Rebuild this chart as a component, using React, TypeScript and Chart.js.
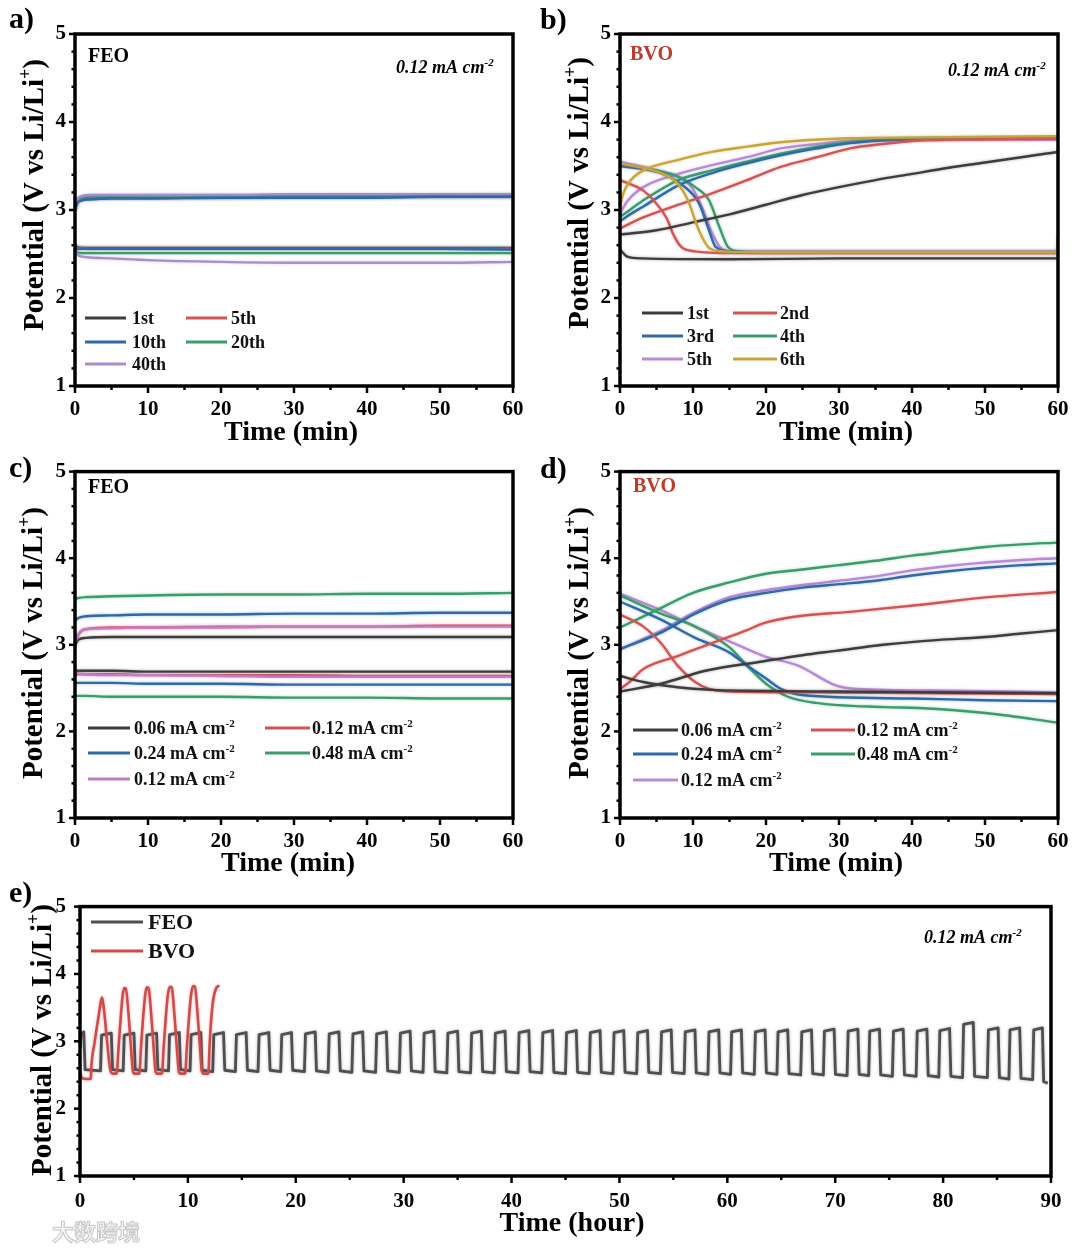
import React, { useEffect, useRef } from "react";
import { Chart, registerables } from "chart.js";
Chart.register(...registerables);

type Pt = [number, number];

// ---------------- Panel a : FEO, cycles at 0.12 mA cm-2 ----------------
const aT = [0, 0.3, 1, 2, 5, 10, 20, 30, 40, 50, 60];
const a1stCharge = [3.0, 3.08, 3.12, 3.13, 3.14, 3.14, 3.14, 3.15, 3.15, 3.15, 3.15];
const a5thCharge = [3.0, 3.09, 3.13, 3.14, 3.15, 3.15, 3.15, 3.15, 3.16, 3.16, 3.16];
const a10thCharge = [3.01, 3.08, 3.11, 3.12, 3.13, 3.13, 3.14, 3.14, 3.14, 3.15, 3.15];
const a20thCharge = [3.02, 3.1, 3.14, 3.15, 3.15, 3.16, 3.16, 3.16, 3.16, 3.16, 3.17];
const a40thCharge = [3.03, 3.12, 3.16, 3.17, 3.17, 3.17, 3.17, 3.18, 3.18, 3.18, 3.18];
const a1stDis = [2.6, 2.58, 2.57, 2.57, 2.57, 2.57, 2.57, 2.57, 2.57, 2.57, 2.57];
const a5thDis = [2.59, 2.57, 2.57, 2.56, 2.56, 2.56, 2.56, 2.56, 2.56, 2.56, 2.56];
const a10thDis = [2.58, 2.56, 2.56, 2.56, 2.56, 2.56, 2.56, 2.56, 2.56, 2.56, 2.55];
const a20thDis = [2.55, 2.52, 2.51, 2.51, 2.51, 2.51, 2.51, 2.51, 2.51, 2.51, 2.51];
const a40thDis = [2.62, 2.5, 2.47, 2.46, 2.45, 2.43, 2.41, 2.4, 2.4, 2.4, 2.41];

// ---------------- Panel b : BVO, cycles at 0.12 mA cm-2 ----------------
const b1stCharge: Pt[] = [[0, 2.72], [5, 2.77], [10, 2.86], [15, 2.95], [20, 3.06], [25, 3.17], [30, 3.26], [35, 3.34], [40, 3.41], [45, 3.48], [50, 3.54], [55, 3.6], [60, 3.66]];
const b2ndCharge: Pt[] = [[0, 2.79], [3, 2.91], [8, 3.06], [12.6, 3.19], [17.4, 3.34], [22, 3.49], [27, 3.6], [31.5, 3.7], [36, 3.75], [41, 3.79], [46, 3.8], [60, 3.81]];
const b3rdCharge: Pt[] = [[0, 2.87], [1, 2.93], [3.2, 3.04], [8, 3.28], [12.6, 3.42], [17.4, 3.53], [22, 3.62], [27, 3.7], [31.5, 3.76], [36, 3.79], [40, 3.8], [60, 3.81]];
const b4thCharge: Pt[] = [[0, 2.92], [1, 2.98], [3.2, 3.11], [8, 3.34], [12.6, 3.45], [17.4, 3.55], [22, 3.64], [27, 3.72], [31.5, 3.77], [36, 3.8], [60, 3.82]];
const b5thCharge: Pt[] = [[0, 2.96], [1, 3.1], [3.2, 3.26], [8, 3.41], [12.6, 3.51], [17.4, 3.6], [22, 3.7], [27, 3.75], [31.5, 3.79], [36, 3.81], [60, 3.8]];
const b6thCharge: Pt[] = [[0, 3.04], [0.5, 3.2], [1.5, 3.34], [3.2, 3.45], [8, 3.57], [12.6, 3.66], [17.4, 3.72], [22, 3.77], [29.6, 3.81], [35, 3.82], [60, 3.84]];
const b1stDis: Pt[] = [[0, 2.55], [1, 2.47], [3, 2.45], [15, 2.44], [30, 2.45], [45, 2.45], [60, 2.45]];
const b2ndDis: Pt[] = [[0, 3.34], [3.2, 3.22], [4.6, 3.11], [6.5, 2.89], [7.2, 2.74], [8.4, 2.58], [10.3, 2.53], [15, 2.51], [60, 2.51]];
const b3rdDis: Pt[] = [[0, 3.5], [5.6, 3.42], [8.9, 3.26], [10.8, 3.08], [12.2, 2.77], [13.1, 2.58], [15, 2.53], [20, 2.52], [60, 2.52]];
const b4thDis: Pt[] = [[0, 3.52], [7.9, 3.38], [10.3, 3.26], [12.2, 3.11], [13.6, 2.81], [14.8, 2.58], [16.4, 2.53], [20, 2.52], [60, 2.52]];
const b5thDis: Pt[] = [[0, 3.55], [5.6, 3.44], [8, 3.38], [9.8, 3.26], [11.2, 3.04], [12.6, 2.74], [13.8, 2.57], [15.5, 2.53], [60, 2.53]];
const b6thDis: Pt[] = [[0, 3.53], [5.6, 3.42], [7.9, 3.3], [9.3, 3.11], [10.8, 2.77], [12.2, 2.57], [14, 2.53], [20, 2.52], [59.8, 2.52], [60, 2.73]];

// ---------------- Panel c : FEO, rate test ----------------
const cT = [0, 0.5, 1.5, 5, 10, 20, 30, 40, 50, 60];
const c006Charge = [3.0, 3.06, 3.08, 3.09, 3.09, 3.09, 3.09, 3.09, 3.09, 3.09];
const c012Charge = [3.0, 3.12, 3.18, 3.2, 3.2, 3.21, 3.21, 3.21, 3.22, 3.22];
const c024Charge = [3.28, 3.31, 3.33, 3.34, 3.35, 3.35, 3.36, 3.36, 3.37, 3.37];
const c048Charge = [3.53, 3.54, 3.55, 3.56, 3.57, 3.58, 3.58, 3.59, 3.59, 3.6];
const c012bCharge = [3.02, 3.13, 3.18, 3.19, 3.2, 3.2, 3.21, 3.21, 3.21, 3.21];
const c006Dis = [2.7, 2.7, 2.7, 2.7, 2.69, 2.69, 2.69, 2.69, 2.69, 2.69];
const c012Dis = [2.66, 2.66, 2.66, 2.66, 2.65, 2.65, 2.65, 2.64, 2.64, 2.64];
const c024Dis = [2.56, 2.56, 2.56, 2.56, 2.55, 2.55, 2.54, 2.54, 2.54, 2.54];
const c048Dis = [2.41, 2.41, 2.41, 2.4, 2.4, 2.4, 2.39, 2.39, 2.38, 2.38];
const c012bDis = [2.68, 2.67, 2.66, 2.65, 2.65, 2.64, 2.63, 2.63, 2.63, 2.63];

// ---------------- Panel d : BVO, rate test ----------------
const d006Charge: Pt[] = [[0, 2.46], [5.6, 2.55], [11.7, 2.7], [19.7, 2.81], [25, 2.88], [29.6, 2.93], [36, 3.0], [41, 3.04], [50, 3.09], [55, 3.13], [60, 3.17]];
const d012Charge: Pt[] = [[0, 2.49], [1.3, 2.57], [3.2, 2.72], [7.9, 2.87], [12.6, 3.02], [17.4, 3.17], [19.7, 3.25], [24.4, 3.33], [31.5, 3.38], [40.9, 3.46], [50.4, 3.55], [60, 3.61]];
const d024Charge: Pt[] = [[0, 2.95], [5.6, 3.14], [10.3, 3.36], [15, 3.52], [20, 3.6], [25, 3.66], [30, 3.7], [35, 3.74], [40, 3.8], [45, 3.85], [50, 3.89], [55, 3.92], [60, 3.94]];
const d048Charge: Pt[] = [[0, 3.2], [5, 3.4], [10, 3.6], [15, 3.72], [20, 3.82], [25, 3.87], [30, 3.92], [35, 3.97], [40, 4.03], [45, 4.08], [50, 4.13], [55, 4.16], [60, 4.18]];
const d012bCharge: Pt[] = [[0, 2.95], [5.6, 3.16], [10.3, 3.38], [15, 3.55], [20, 3.63], [25, 3.69], [30, 3.74], [35, 3.79], [40, 3.86], [45, 3.91], [50, 3.95], [55, 3.98], [60, 4.0]];
const d006Dis: Pt[] = [[0, 2.64], [3.2, 2.57], [7.9, 2.51], [12.6, 2.48], [17.4, 2.47], [30, 2.46], [45, 2.45], [60, 2.44]];
const d012Dis: Pt[] = [[0, 3.35], [3.2, 3.21], [5.6, 3.02], [7.9, 2.76], [10.3, 2.57], [12.2, 2.49], [15, 2.46], [30, 2.45], [45, 2.44], [60, 2.43]];
const d024Dis: Pt[] = [[0, 3.5], [5.6, 3.29], [10.3, 3.08], [15, 2.91], [17.4, 2.76], [20, 2.61], [22.1, 2.49], [24.9, 2.42], [40, 2.38], [50, 2.36], [60, 2.35]];
const d048Dis: Pt[] = [[0, 3.57], [5.6, 3.36], [10.3, 3.21], [15, 2.97], [17.4, 2.76], [20, 2.55], [23, 2.4], [26.8, 2.33], [36.2, 2.28], [40.9, 2.27], [50.4, 2.21], [60, 2.1]];
const d012bDis: Pt[] = [[0, 3.59], [5.6, 3.4], [10.3, 3.21], [15, 3.04], [19.7, 2.87], [24.4, 2.76], [29.6, 2.53], [32.5, 2.49], [45, 2.47], [60, 2.45]];

// ---------------- Panel e : long-term cycling (hours) ----------------
const feoTopStart = [0.0, 1.9, 4.0, 6.1, 8.2, 10.2, 12.3, 14.4, 16.5, 18.6, 20.8, 23.0, 25.2, 27.4, 29.6, 31.8, 34.0, 36.2, 38.4, 40.6, 42.8, 45.0, 47.2, 49.4, 51.6, 53.8, 56.0, 58.2, 60.3, 62.5, 64.6, 66.8, 68.9, 71.1, 73.1, 75.3, 77.5, 79.6, 81.8, 84.1, 86.1, 88.3];
const feoTopEnd = [0.35, 2.9, 5.0, 7.1, 9.2, 11.2, 13.3, 15.4, 17.5, 19.6, 21.8, 24.0, 26.2, 28.4, 30.6, 32.8, 35.0, 37.2, 39.4, 41.6, 43.8, 46.0, 48.2, 50.4, 52.6, 54.8, 57.0, 59.2, 61.3, 63.5, 65.6, 67.8, 69.9, 72.1, 74.1, 76.3, 78.5, 80.6, 82.8, 85.1, 87.1, 89.2];
const feoHigh = [3.14, 3.12, 3.12, 3.12, 3.13, 3.13, 3.13, 3.13, 3.13, 3.13, 3.14, 3.14, 3.14, 3.14, 3.15, 3.15, 3.15, 3.15, 3.15, 3.16, 3.16, 3.16, 3.16, 3.16, 3.16, 3.17, 3.17, 3.17, 3.17, 3.17, 3.17, 3.17, 3.18, 3.18, 3.18, 3.18, 3.18, 3.19, 3.28, 3.2, 3.2, 3.2];
const feoLow = [2.56, 2.56, 2.56, 2.56, 2.56, 2.55, 2.55, 2.55, 2.55, 2.55, 2.54, 2.54, 2.54, 2.54, 2.54, 2.53, 2.53, 2.53, 2.53, 2.53, 2.52, 2.52, 2.52, 2.52, 2.52, 2.52, 2.51, 2.51, 2.51, 2.51, 2.5, 2.5, 2.49, 2.49, 2.48, 2.48, 2.47, 2.46, 2.46, 2.44, 2.43, 2.38];
const feoLongFirst: Pt = [0, 2.9];
const feoLongLastT = 89.7;
const bvoLong: Pt[] = [
  [0, 2.56], [0.15, 2.46], [0.5, 2.44], [1.0, 2.44],
  [1.05, 2.62], [1.35, 2.98], [1.7, 3.35], [1.95, 3.6], [2.05, 3.65],
  [2.2, 3.5], [2.45, 3.1], [2.7, 2.7], [2.85, 2.55], [3.0, 2.52], [3.4, 2.52],
  [3.55, 2.85], [3.75, 3.3], [3.95, 3.68], [4.1, 3.79], [4.25, 3.78],
  [4.5, 3.4], [4.75, 2.85], [4.9, 2.56], [5.05, 2.52], [5.5, 2.52],
  [5.65, 2.9], [5.85, 3.35], [6.05, 3.7], [6.2, 3.8], [6.35, 3.79],
  [6.6, 3.4], [6.85, 2.85], [7.0, 2.56], [7.15, 2.52], [7.6, 2.52],
  [7.75, 2.9], [7.95, 3.35], [8.15, 3.7], [8.35, 3.81], [8.5, 3.8],
  [8.75, 3.4], [9.0, 2.85], [9.15, 2.56], [9.3, 2.52], [9.75, 2.52],
  [9.9, 2.9], [10.1, 3.35], [10.3, 3.7], [10.5, 3.82], [10.65, 3.81],
  [10.9, 3.4], [11.15, 2.85], [11.3, 2.56], [11.45, 2.52], [11.9, 2.52],
  [12.0, 2.9], [12.15, 3.3], [12.35, 3.62], [12.6, 3.78], [12.9, 3.83],
];

// ---------------- helpers ----------------
const grid = (t: number[], v: number[]) => t.map((x, i) => ({ x, y: v[i] }));
const pts = (p: Pt[]) => p.map(([x, y]) => ({ x, y }));
function feoLongPoints() {
  const out = [{ x: feoLongFirst[0], y: feoLongFirst[1] }];
  for (let k = 0; k < feoTopStart.length; k++) {
    if (k > 0) out.push({ x: feoTopStart[k], y: feoLow[k - 1] });
    out.push({ x: feoTopStart[k] + 0.1, y: feoHigh[k] - 0.03 });
    out.push({ x: feoTopEnd[k], y: feoHigh[k] });
    out.push({ x: feoTopEnd[k] + 0.12, y: feoLow[k] + 0.02 });
  }
  out.push({ x: feoLongLastT, y: feoLow[feoLow.length - 1] });
  return out;
}

const K = "#3d3d3d";
const R = "#d35454";
const B = "#2f6aa6";
const G = "#3a9d6b";
const P = "#b98ad6";
const Y = "#c9a43a";
const BVO_RED = "#c0392b";
const FONT = '"Liberation Serif", "Times New Roman", serif';

type Seg = { t: string; sup?: boolean };
const S = (t: string, sup = false): Seg => ({ t, sup });
const CM2 = (v: string) => [S(v + " mA cm"), S("-2", true)];
const YTITLE = [S("Potential (V vs Li/Li"), S("+", true), S(")")];

interface Series { color: string; parts: { x: number; y: number }[][]; order?: number; step?: boolean; width?: number }
interface LegendItem { segs: Seg[]; color: string; x0: number; x1: number; tx: number; y: number }
interface TextItem { segs: Seg[]; x: number; y: number; size: number; style: string; color?: string; align?: "left" | "center"; rotate?: boolean }
interface PanelCfg {
  box: { x: number; y: number; w: number; h: number };
  area: { l: number; t: number; r: number; b: number };
  xMax: number; xMajor: number; xMinor: number;
  tickPadX: number; tickPadY: number;
  series: Series[];
  legend: LegendItem[]; legendSize: number;
  texts: TextItem[];
}

function drawRich(ctx: CanvasRenderingContext2D, segs: Seg[], x: number, y: number, size: number, style: string, align: string) {
  const main = `${style} ${size}px ${FONT}`;
  const sup = `${style} ${Math.round(size * 0.62)}px ${FONT}`;
  let w = 0;
  for (const s of segs) { ctx.font = s.sup ? sup : main; w += ctx.measureText(s.t).width; }
  let cx = align === "center" ? x - w / 2 : x;
  ctx.textAlign = "left";
  ctx.textBaseline = "alphabetic";
  for (const s of segs) {
    ctx.font = s.sup ? sup : main;
    ctx.fillText(s.t, cx, s.sup ? y - size * 0.4 : y);
    cx += ctx.measureText(s.t).width;
  }
}

function hexA(hex: string, a: number) {
  const n = parseInt(hex.slice(1), 16);
  return `rgba(${(n >> 16) & 255},${(n >> 8) & 255},${n & 255},${a})`;
}

function makeDecor(cfg: PanelCfg) {
  return {
    id: "decor",
    beforeDatasetDraw(chart: any, args: any) {
      const ds = chart.data.datasets[args.index];
      const ctx = chart.ctx;
      ctx.save();
      ctx.shadowColor = hexA(ds.borderColor, 0.45);
      ctx.shadowBlur = 3;
    },
    afterDatasetDraw(chart: any) {
      chart.ctx.restore();
    },
    afterDraw(chart: any) {
      const ctx: CanvasRenderingContext2D = chart.ctx;
      const { left, right, top, bottom } = chart.chartArea;
      const xs = chart.scales.x, ys = chart.scales.y;
      const ox = cfg.box.x, oy = cfg.box.y;
      ctx.save();
      ctx.strokeStyle = "#000";
      ctx.lineCap = "butt";
      ctx.lineWidth = 2.5;
      const nx = Math.round(cfg.xMax / cfg.xMinor);
      for (let i = 0; i <= nx; i++) {
        const v = i * cfg.xMinor;
        const major = Math.abs(v / cfg.xMajor - Math.round(v / cfg.xMajor)) < 1e-6;
        const px = xs.getPixelForValue(v);
        ctx.beginPath(); ctx.moveTo(px, bottom); ctx.lineTo(px, bottom + (major ? 7 : 4)); ctx.stroke();
      }
      for (let i = 0; i <= 20; i++) {
        const v = 1 + i * 0.2;
        const major = i % 5 === 0;
        const py = ys.getPixelForValue(v);
        ctx.beginPath(); ctx.moveTo(left, py); ctx.lineTo(left - (major ? 6 : 3.5), py); ctx.stroke();
      }
      ctx.lineWidth = 3.5;
      ctx.strokeRect(left, top, right - left, bottom - top);

      // legend
      for (const it of cfg.legend) {
        ctx.strokeStyle = it.color;
        ctx.lineWidth = 3;
        ctx.beginPath(); ctx.moveTo(it.x0 - ox, it.y - oy); ctx.lineTo(it.x1 - ox, it.y - oy); ctx.stroke();
        ctx.fillStyle = "#111";
        drawRich(ctx, it.segs, it.tx - ox, it.y - oy + cfg.legendSize * 0.33, cfg.legendSize, "bold", "left");
      }
      // texts
      for (const t of cfg.texts) {
        ctx.fillStyle = t.color || "#000";
        if (t.rotate) {
          ctx.save();
          ctx.translate(t.x - ox, t.y - oy);
          ctx.rotate(-Math.PI / 2);
          drawRich(ctx, t.segs, 0, 0, t.size, t.style, "center");
          ctx.restore();
        } else {
          drawRich(ctx, t.segs, t.x - ox, t.y - oy, t.size, t.style, t.align || "left");
        }
      }
      ctx.restore();
    },
  };
}

function buildConfig(cfg: PanelCfg): any {
  const datasets = cfg.series.flatMap((s, si) =>
    s.parts.map((p) => ({
      data: p,
      borderColor: s.color,
      backgroundColor: s.color,
      borderWidth: s.width ?? 2.4,
      pointRadius: 0,
      fill: false,
      tension: 0,
      cubicInterpolationMode: s.step ? "default" : "monotone",
      borderJoinStyle: "round",
      order: s.order ?? si + 2,
    }))
  );
  const tickFont = { family: FONT, weight: "bold", size: 21 };
  return {
    type: "line",
    data: { datasets },
    plugins: [makeDecor(cfg)],
    options: {
      animation: false,
      responsive: false,
      events: [],
      layout: { padding: { left: 0, top: cfg.area.t - cfg.box.y, right: cfg.box.x + cfg.box.w - cfg.area.r, bottom: 0 } },
      plugins: { legend: { display: false }, tooltip: { enabled: false }, title: { display: false } },
      scales: {
        x: {
          type: "linear", min: 0, max: cfg.xMax,
          afterFit: (sc: any) => { sc.height = cfg.box.y + cfg.box.h - cfg.area.b; },
          grid: { display: false, drawTicks: false },
          border: { display: false },
          ticks: { stepSize: cfg.xMajor, autoSkip: false, maxRotation: 0, padding: cfg.tickPadX, color: "#000", font: tickFont },
        },
        y: {
          type: "linear", min: 1, max: 5,
          afterFit: (sc: any) => { sc.width = cfg.area.l - cfg.box.x; },
          grid: { display: false, drawTicks: false },
          border: { display: false },
          ticks: { stepSize: 1, autoSkip: false, padding: cfg.tickPadY, color: "#000", font: tickFont },
        },
      },
    },
  };
}

// ---------------- panel configurations ----------------
const L = (segs: Seg[], color: string, x0: number, x1: number, tx: number, y: number): LegendItem => ({ segs, color, x0, x1, tx, y });

const panelA: PanelCfg = {
  box: { x: 0, y: 0, w: 540, h: 450 },
  area: { l: 75, t: 34, r: 513, b: 386 },
  xMax: 60, xMajor: 10, xMinor: 5, tickPadX: 11, tickPadY: 9,
  series: [
    { color: K, parts: [grid(aT, a1stCharge), grid(aT, a1stDis)], order: 6 },
    { color: R, parts: [grid(aT, a5thCharge), grid(aT, a5thDis)], order: 5 },
    { color: B, parts: [grid(aT, a10thCharge), grid(aT, a10thDis)], order: 1 },
    { color: G, parts: [grid(aT, a20thCharge), grid(aT, a20thDis)], order: 4 },
    { color: "#a88fcc", parts: [grid(aT, a40thCharge), grid(aT, a40thDis)], order: 3 },
  ],
  legendSize: 18,
  legend: [
    L([S("1st")], K, 85, 126, 132, 318), L([S("5th")], R, 186, 227, 231, 318),
    L([S("10th")], B, 85, 126, 132, 342), L([S("20th")], G, 186, 227, 231, 342),
    L([S("40th")], "#a88fcc", 85, 126, 132, 364),
  ],
  texts: [
    { segs: [S("a)")], x: 9, y: 28, size: 30, style: "bold" },
    { segs: [S("FEO")], x: 88, y: 62, size: 20, style: "bold" },
    { segs: CM2("0.12"), x: 396, y: 73, size: 18, style: "italic bold" },
    { segs: YTITLE, x: 43, y: 195, size: 29, style: "bold", rotate: true },
    { segs: [S("Time (min)")], x: 291, y: 440, size: 28, style: "bold", align: "center" },
  ],
};

const panelB: PanelCfg = {
  box: { x: 540, y: 0, w: 540, h: 450 },
  area: { l: 620, t: 34, r: 1058, b: 386 },
  xMax: 60, xMajor: 10, xMinor: 5, tickPadX: 11, tickPadY: 9,
  series: [
    { color: K, parts: [pts(b1stCharge), pts(b1stDis)] },
    { color: R, parts: [pts(b2ndCharge), pts(b2ndDis)] },
    { color: B, parts: [pts(b3rdCharge), pts(b3rdDis)] },
    { color: G, parts: [pts(b4thCharge), pts(b4thDis)] },
    { color: P, parts: [pts(b5thCharge), pts(b5thDis)] },
    { color: Y, parts: [pts(b6thCharge), pts(b6thDis)], order: 1 },
  ],
  legendSize: 18,
  legend: [
    L([S("1st")], K, 642, 683, 687, 313), L([S("2nd")], R, 733, 777, 780, 313),
    L([S("3rd")], B, 642, 683, 687, 336), L([S("4th")], G, 733, 777, 780, 336),
    L([S("5th")], P, 642, 683, 687, 359), L([S("6th")], Y, 733, 777, 780, 359),
  ],
  texts: [
    { segs: [S("b)")], x: 540, y: 29, size: 30, style: "bold" },
    { segs: [S("BVO")], x: 630, y: 60, size: 20, style: "bold", color: BVO_RED },
    { segs: CM2("0.12"), x: 948, y: 76, size: 18, style: "italic bold" },
    { segs: YTITLE, x: 588, y: 193, size: 29, style: "bold", rotate: true },
    { segs: [S("Time (min)")], x: 846, y: 440, size: 28, style: "bold", align: "center" },
  ],
};

const panelC: PanelCfg = {
  box: { x: 0, y: 450, w: 540, h: 430 },
  area: { l: 75, t: 466, r: 513, b: 818 },
  xMax: 60, xMajor: 10, xMinor: 5, tickPadX: 11, tickPadY: 9,
  series: [
    { color: K, parts: [grid(cT, c006Charge), grid(cT, c006Dis)] },
    { color: R, parts: [grid(cT, c012Charge), grid(cT, c012Dis)] },
    { color: B, parts: [grid(cT, c024Charge), grid(cT, c024Dis)] },
    { color: G, parts: [grid(cT, c048Charge), grid(cT, c048Dis)] },
    { color: "#c47cc7", parts: [grid(cT, c012bCharge), grid(cT, c012bDis)], order: 1 },
  ],
  legendSize: 18,
  legend: [
    L(CM2("0.06"), K, 88, 130, 134, 728), L(CM2("0.12"), R, 265, 310, 312, 728),
    L(CM2("0.24"), B, 88, 130, 134, 753), L(CM2("0.48"), G, 265, 310, 312, 753),
    L(CM2("0.12"), "#c47cc7", 88, 130, 134, 779),
  ],
  texts: [
    { segs: [S("c)")], x: 9, y: 477, size: 30, style: "bold" },
    { segs: [S("FEO")], x: 88, y: 493, size: 20, style: "bold" },
    { segs: YTITLE, x: 42, y: 643, size: 29, style: "bold", rotate: true },
    { segs: [S("Time (min)")], x: 288, y: 871, size: 28, style: "bold", align: "center" },
  ],
};

const panelD: PanelCfg = {
  box: { x: 540, y: 450, w: 540, h: 430 },
  area: { l: 620, t: 466, r: 1058, b: 818 },
  xMax: 60, xMajor: 10, xMinor: 5, tickPadX: 11, tickPadY: 9,
  series: [
    { color: K, parts: [pts(d006Charge), pts(d006Dis)] },
    { color: R, parts: [pts(d012Charge), pts(d012Dis)] },
    { color: B, parts: [pts(d024Charge), pts(d024Dis)] },
    { color: G, parts: [pts(d048Charge), pts(d048Dis)] },
    { color: P, parts: [pts(d012bCharge), pts(d012bDis)] },
  ],
  legendSize: 18,
  legend: [
    L(CM2("0.06"), K, 633, 678, 681, 730), L(CM2("0.12"), R, 811, 855, 857, 730),
    L(CM2("0.24"), B, 633, 678, 681, 754), L(CM2("0.48"), G, 811, 855, 857, 754),
    L(CM2("0.12"), P, 633, 678, 681, 780),
  ],
  texts: [
    { segs: [S("d)")], x: 540, y: 478, size: 30, style: "bold" },
    { segs: [S("BVO")], x: 633, y: 492, size: 20, style: "bold", color: BVO_RED },
    { segs: YTITLE, x: 588, y: 643, size: 29, style: "bold", rotate: true },
    { segs: [S("Time (min)")], x: 836, y: 871, size: 28, style: "bold", align: "center" },
  ],
};

const panelE: PanelCfg = {
  box: { x: 0, y: 880, w: 1080, h: 369 },
  area: { l: 80, t: 904, r: 1051, b: 1176 },
  xMax: 90, xMajor: 10, xMinor: 5, tickPadX: 13, tickPadY: 14,
  series: [
    { color: "#4f4f4f", parts: [feoLongPoints()], step: true, width: 2.8, order: 3 },
    { color: "#d04a4a", parts: [pts(bvoLong)], width: 2.6, order: 1 },
  ],
  legendSize: 22,
  legend: [
    L([S("FEO")], "#4f4f4f", 91, 143, 148, 922),
    L([S("BVO")], "#d04a4a", 91, 143, 148, 951),
  ],
  texts: [
    { segs: [S("e)")], x: 9, y: 902, size: 30, style: "bold" },
    { segs: CM2("0.12"), x: 924, y: 943, size: 18, style: "italic bold" },
    { segs: YTITLE, x: 51, y: 1040, size: 29, style: "bold", rotate: true },
    { segs: [S("Time (hour)")], x: 572, y: 1231, size: 28, style: "bold", align: "center" },
  ],
};

const PANELS = [panelA, panelB, panelC, panelD, panelE];

function Panel({ cfg }: { cfg: PanelCfg }) {
  const ref = useRef<HTMLCanvasElement>(null);
  useEffect(() => {
    const canvas = ref.current;
    if (!canvas) return;
    const chart = new Chart(canvas, buildConfig(cfg));
    return () => chart.destroy();
  }, [cfg]);
  return (
    <canvas
      ref={ref}
      width={cfg.box.w}
      height={cfg.box.h}
      style={{ position: "absolute", left: cfg.box.x, top: cfg.box.y, width: cfg.box.w, height: cfg.box.h }}
    />
  );
}

export default function App() {
  return (
    <div style={{ position: "absolute", left: 0, top: 0, width: 1080, height: 1249, background: "#fff", overflow: "hidden" }}>
      {PANELS.map((p, i) => (
        <Panel key={i} cfg={p} />
      ))}
      <div
        style={{
          position: "absolute", left: 52, top: 1214, fontFamily: '"Noto Sans CJK SC", sans-serif', fontSize: 22,
          color: "#f4f4f4", WebkitTextStroke: "1px #c8c8c8", fontWeight: 700, letterSpacing: 0,
        }}
      >
        大数跨境
      </div>
    </div>
  );
}
